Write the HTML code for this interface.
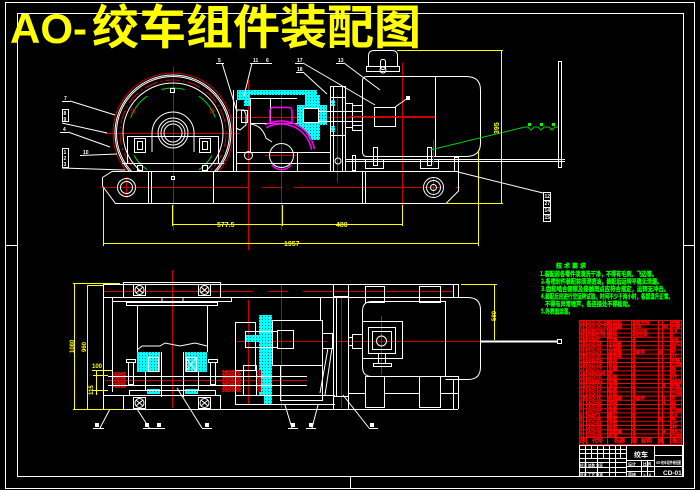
<!DOCTYPE html>
<html><head><meta charset="utf-8">
<style>html,body{margin:0;padding:0;background:#000;overflow:hidden}svg{display:block}</style>
</head>
<body>
<svg xmlns="http://www.w3.org/2000/svg" width="700" height="490" viewBox="0 0 700 490" font-family="Liberation Sans, 'Noto Sans CJK SC', sans-serif">
<defs>
<pattern id="cy" width="3" height="3" patternUnits="userSpaceOnUse"><rect width="3" height="3" fill="#00ffff"/><rect x="1" y="1" width="1" height="1" fill="#007070"/></pattern>
<pattern id="rh" width="3" height="3" patternUnits="userSpaceOnUse"><rect width="3" height="3" fill="#d00000"/><rect x="0" y="0" width="1" height="1" fill="#300000"/><rect x="2" y="1" width="1" height="1" fill="#300000"/></pattern>
<clipPath id="dc"><rect x="0" y="0" width="700" height="171"/></clipPath>
</defs>
<rect width="700" height="490" fill="#000"/>

<!-- borders -->
<g stroke="#fff" fill="none" stroke-width="1">
<rect x="5.5" y="2.5" width="689" height="486"/>
<rect x="17.5" y="13.5" width="666" height="463"/>
<line x1="5" y1="245.5" x2="17" y2="245.5"/>
<line x1="683" y1="245.5" x2="695" y2="245.5"/>
<line x1="350.5" y1="477" x2="350.5" y2="489"/>
</g>

<!-- title -->
<text x="10" y="43" font-size="42" font-weight="bold" fill="#ffff00">AO-</text>
<text x="92" y="44" font-size="47" font-weight="bold" fill="#ffff00" font-family="'Noto Sans CJK SC', sans-serif">绞车组件装配图</text>

<!-- ================= UPPER VIEW ================= -->
<g stroke="#d00000" fill="none" stroke-width="1">
<line x1="105" y1="133.5" x2="240" y2="133.5"/>
<line x1="173.5" y1="67" x2="173.5" y2="230"/>
<line x1="248.5" y1="80" x2="248.5" y2="250"/>
<line x1="281.5" y1="90" x2="281.5" y2="230"/>
<line x1="337.5" y1="95" x2="337.5" y2="182"/>
<line x1="402.5" y1="63" x2="402.5" y2="205"/>
<line x1="230" y1="117.5" x2="436" y2="117.5"/>
<line x1="265" y1="155.5" x2="297" y2="155.5"/>
<line x1="100" y1="187.5" x2="460" y2="187.5" stroke-dasharray="150 12 20 12"/>
<line x1="126.5" y1="177" x2="126.5" y2="198"/>
<line x1="433.5" y1="177" x2="433.5" y2="198"/>
</g>

<!-- drum -->
<g fill="none" stroke-width="1">
<g clip-path="url(#dc)">
<circle cx="173" cy="133" r="60" stroke="#d00000"/>
<circle cx="173" cy="133" r="58" stroke="#fff"/>
<circle cx="173" cy="133" r="56.5" stroke="#fff"/>
<circle cx="173" cy="133" r="53" stroke="#d00000" stroke-dasharray="14 3 2 3"/>
<circle cx="173" cy="133" r="50" stroke="#fff"/>
</g>
<g stroke="#00e000">
<path d="M161.4,89.5 A45,45 0 0 1 184.6,89.5"/>
<path d="M130.7,117.6 A45,45 0 0 1 147.2,96.1"/>
<path d="M198.8,96.1 A45,45 0 0 1 215.3,117.6"/>
<path d="M134,155.5 A45,45 0 0 0 147.2,169.9"/>
<path d="M198.8,169.9 A45,45 0 0 0 212,155.5"/>
</g>
<g stroke="#fff">
<path d="M152,152 L152,133 A21,21 0 0 1 194,133 L194,152"/>
<circle cx="173" cy="133" r="15"/>
<circle cx="173" cy="133" r="12"/>
<circle cx="173" cy="133" r="9"/>
<line x1="127" y1="136.5" x2="219" y2="136.5"/>
<line x1="127.5" y1="136" x2="127.5" y2="163"/>
<line x1="218.5" y1="136" x2="218.5" y2="163"/>
<line x1="122" y1="163.5" x2="224" y2="163.5"/>
<rect x="134.5" y="138.5" width="11" height="14"/>
<rect x="137.5" y="141.5" width="5" height="8"/>
<rect x="199.5" y="138.5" width="11" height="14"/>
<rect x="202.5" y="141.5" width="5" height="8"/>
<rect x="170.5" y="88.5" width="4" height="4"/>
<rect x="137.5" y="165.5" width="5" height="5"/>
<rect x="202.5" y="165.5" width="5" height="5"/>
<circle cx="133" cy="111" r="2" stroke="#d00000"/>
<circle cx="212" cy="111" r="2" stroke="#d00000"/>
</g>
</g>

<!-- base -->
<g fill="none" stroke="#fff" stroke-width="1">
<polygon points="102.5,177.5 112,171.5 458.5,171.5 458.5,191 446,203.5 115.5,203.5 102.5,186"/>
<line x1="148.5" y1="172" x2="148.5" y2="203"/>
<line x1="151.5" y1="172" x2="151.5" y2="203"/>
<line x1="213.5" y1="172" x2="213.5" y2="203"/>
<line x1="362.5" y1="172" x2="362.5" y2="203"/>
<line x1="365.5" y1="172" x2="365.5" y2="203"/>
<circle cx="126.5" cy="187.5" r="9"/>
<circle cx="126.5" cy="187.5" r="6"/>
<circle cx="433.5" cy="187.5" r="10"/>
<circle cx="433.5" cy="187.5" r="7"/>
<circle cx="433.5" cy="187.5" r="3"/>
<rect x="171.5" y="176.5" width="3" height="3"/>
</g>

<!-- gearbox (upper) -->
<polygon points="237,90 317,90 317,95 250,95 250,106 244,106 244,100 237,100" fill="url(#cy)"/>
<polygon points="305,95 320,95 320,105 327,105 327,125 320,125 320,140 310,140 305,130 297,125 297,105 305,105" fill="url(#cy)"/>
<rect x="331" y="100" width="4" height="6" fill="url(#cy)"/>
<rect x="331" y="126" width="4" height="6" fill="url(#cy)"/>
<g fill="none" stroke="#fff" stroke-width="1">
<line x1="233.5" y1="90" x2="233.5" y2="171"/>
<line x1="236.5" y1="100" x2="236.5" y2="171"/>
<path d="M236,110 L244,110 L246,115 L246,125 L240,130 L236,128"/>
<rect x="241.5" y="110.5" width="6" height="12"/>
<rect x="250.5" y="98.5" width="20" height="25"/>
<line x1="270" y1="98.5" x2="297" y2="98.5"/>
<line x1="270" y1="123.5" x2="297" y2="123.5"/>
<line x1="250.5" y1="123" x2="250.5" y2="152"/>
<path d="M250,124 Q262,125 266,138 L272,142"/>
<line x1="236" y1="152.5" x2="330" y2="152.5"/>
<line x1="236" y1="163.5" x2="330" y2="163.5"/>
<line x1="297.5" y1="152" x2="297.5" y2="171"/>
<circle cx="248.5" cy="155.5" r="4"/>
<circle cx="281.5" cy="155.5" r="12"/>
<rect x="303.5" y="108.5" width="15" height="14" fill="#000"/>
<line x1="318" y1="111.5" x2="362" y2="111.5"/>
<line x1="318" y1="121.5" x2="362" y2="121.5"/>
<rect x="330.5" y="86.5" width="15" height="85"/>
<line x1="333.5" y1="86" x2="333.5" y2="171"/>
<line x1="342.5" y1="86" x2="342.5" y2="171"/>
<line x1="330" y1="97.5" x2="345" y2="97.5"/>
<line x1="330" y1="135.5" x2="345" y2="135.5"/>
<rect x="345.5" y="103.5" width="7" height="24"/>
<rect x="352.5" y="105.5" width="10" height="20"/>
<line x1="345" y1="159.5" x2="565" y2="159.5"/>
<line x1="345" y1="161.5" x2="565" y2="161.5"/>
<circle cx="338" cy="161" r="3"/>
</g>
<g fill="none" stroke="#ff00ff" stroke-width="1.5">
<rect x="270" y="107.5" width="22" height="16" rx="3"/>
<path d="M265,125 A34,34 0 0 1 314.5,149.1"/>
<path d="M266.4,127.6 A31,31 0 0 1 311.5,149.6"/>
<path d="M272,165 A12,12 0 0 0 291,165"/>
</g>

<!-- motor (upper) -->
<g fill="none" stroke="#fff" stroke-width="1">
<path d="M368.5,67 L368.5,55 Q369,50.5 374,50.5 L392,50.5 Q397,50.5 397.5,55 L397.5,67"/>
<rect x="366.5" y="66.5" width="33" height="5"/>
<rect x="380.5" y="59.5" width="5" height="10" rx="2"/>
<circle cx="383" cy="70" r="3"/>
<path d="M367,76.5 L466,76.5 Q480.5,76.5 480.5,90 L480.5,143 Q480.5,156.5 466,156.5 L367,156.5 Q362.5,156.5 362.5,152 L362.5,81 Q362.5,76.5 367,76.5 Z"/>
<line x1="435.5" y1="76" x2="435.5" y2="156"/>
<rect x="352.5" y="105.5" width="10" height="25"/>
<rect x="374.5" y="107.5" width="21" height="19"/>
<line x1="395" y1="107" x2="408" y2="98"/>
<rect x="406.5" y="96.5" width="3" height="3" fill="#fff"/>
<rect x="373.5" y="147.5" width="4" height="18"/>
<rect x="427.5" y="147.5" width="4" height="18"/>
<rect x="365.5" y="159.5" width="18" height="9"/>
<rect x="420.5" y="159.5" width="18" height="9"/>
<rect x="352.5" y="155.5" width="3" height="15"/>
<rect x="454.5" y="157.5" width="4" height="14"/>
<rect x="558.5" y="61.5" width="3" height="106"/>
</g>
<g stroke="#d00000"><line x1="350" y1="116.5" x2="435" y2="116.5"/><line x1="433.5" y1="140" x2="433.5" y2="165"/></g>

<!-- green rope line -->
<g stroke="#00d000" fill="none" stroke-width="1">
<polyline points="430,150 525,127 528,127 531,130 534,127 538,127 541,130 544,127 549,127 552,130 555,127 558,127"/>
</g>
<rect x="528" y="123" width="3" height="3" fill="#00ff00"/>
<rect x="540" y="123" width="3" height="3" fill="#00ff00"/>
<rect x="552" y="123" width="3" height="3" fill="#00ff00"/>

<!-- yellow dims (upper) -->
<g stroke="#ffff00" fill="none" stroke-width="1">
<line x1="397" y1="50.5" x2="503" y2="50.5"/>
<line x1="501.5" y1="50" x2="501.5" y2="204"/>
<line x1="445" y1="203.5" x2="503" y2="203.5"/>
<line x1="172" y1="224.5" x2="402" y2="224.5"/>
<line x1="103" y1="243.5" x2="479" y2="243.5"/>
<line x1="103.5" y1="188" x2="103.5" y2="246"/>
<line x1="172.5" y1="205" x2="172.5" y2="226"/>
<line x1="282.5" y1="205" x2="282.5" y2="226"/>
<line x1="402.5" y1="205" x2="402.5" y2="226"/>
<line x1="478.5" y1="150" x2="478.5" y2="246"/>
</g>
<g fill="#ffff00" font-size="7" font-weight="bold">
<text x="217" y="227">577.5</text>
<text x="336" y="227">480</text>
<text x="284" y="246">1957</text>
<text x="0" y="0" transform="translate(499,134) rotate(-90)">395</text>
</g>

<!-- leaders upper -->
<g stroke="#fff" fill="none" stroke-width="1">
<line x1="62" y1="101.5" x2="70" y2="101.5"/><line x1="70" y1="101" x2="115" y2="115"/>
<rect x="62.5" y="109.5" width="6" height="12"/><line x1="62" y1="123" x2="107" y2="133"/>
<line x1="60" y1="132.5" x2="68" y2="132.5"/><line x1="68" y1="132" x2="110" y2="147"/>
<line x1="80" y1="155.5" x2="117" y2="154"/>
<rect x="62.5" y="148.5" width="6" height="19"/><line x1="62" y1="168" x2="125" y2="170"/>
<line x1="216" y1="63.5" x2="224" y2="63.5"/><line x1="222" y1="63" x2="237" y2="112"/>
<line x1="250" y1="63.5" x2="272" y2="63.5"/><line x1="252" y1="63" x2="244" y2="96"/>
<line x1="295" y1="63.5" x2="303" y2="63.5"/><line x1="303" y1="63" x2="375" y2="105"/>
<line x1="296" y1="72.5" x2="303" y2="72.5"/><line x1="303" y1="72" x2="327" y2="94"/>
<line x1="336" y1="63.5" x2="344" y2="63.5"/><line x1="344" y1="63" x2="380" y2="90"/>
<line x1="458" y1="172" x2="543" y2="193"/>
<rect x="543.5" y="192.5" width="7" height="29"/>
<line x1="543" y1="200.5" x2="550" y2="200.5"/><line x1="543" y1="207.5" x2="550" y2="207.5"/><line x1="543" y1="214.5" x2="550" y2="214.5"/>
</g>
<g fill="#fff" font-size="5" font-weight="bold">
<text x="64" y="100">7</text><text x="63.5" y="115">8</text><text x="63.5" y="121">9</text>
<text x="63" y="131">4</text><text x="83" y="154">10</text>
<text x="63.5" y="154">1</text><text x="63.5" y="160">2</text><text x="63.5" y="166">3</text>
<text x="218" y="62">5</text><text x="253" y="62">11</text><text x="266" y="62">6</text>
<text x="297" y="62">17</text><text x="297" y="71">18</text><text x="338" y="62">13</text>
<text x="544.5" y="198">12</text><text x="544.5" y="205">27</text><text x="544.5" y="212">14</text><text x="544.5" y="219">15</text>
</g>

<!-- ================= LOWER VIEW ================= -->
<g stroke="#d00000" fill="none" stroke-width="1">
<line x1="103" y1="291.5" x2="458" y2="291.5" stroke-dasharray="150 15 20 15"/>
<line x1="172.5" y1="270" x2="172.5" y2="408"/>
<line x1="248.5" y1="300" x2="248.5" y2="405"/>
<line x1="281.5" y1="285" x2="281.5" y2="408"/>
<line x1="341.5" y1="298" x2="341.5" y2="408"/>
<line x1="105" y1="380.5" x2="307" y2="380.5"/>
<line x1="237" y1="341.5" x2="480" y2="341.5" stroke-dasharray="90 8 150"/>
<line x1="381.5" y1="316" x2="381.5" y2="375"/>
</g>

<rect x="137" y="352" width="23" height="20" fill="url(#cy)"/>
<rect x="185" y="352" width="22" height="20" fill="url(#cy)"/>
<rect x="147" y="389" width="13" height="5" fill="url(#cy)"/>
<rect x="185" y="389" width="13" height="5" fill="url(#cy)"/>
<polygon points="259,315 272,315 272,405 264,405 264,395 259,395" fill="url(#cy)"/>
<rect x="245" y="335" width="27" height="7" fill="url(#cy)"/>
<rect x="112" y="372" width="14" height="16" fill="url(#rh)"/>
<rect x="222" y="370" width="15" height="22" fill="url(#rh)"/>
<rect x="236" y="370" width="5" height="22" fill="url(#rh)"/>
<rect x="256" y="370" width="5" height="22" fill="url(#rh)"/>

<g fill="none" stroke="#fff" stroke-width="1">
<line x1="103" y1="284.5" x2="458" y2="284.5"/>
<line x1="103" y1="297.5" x2="123" y2="297.5"/>
<line x1="220" y1="297.5" x2="458" y2="297.5"/>
<line x1="103.5" y1="284" x2="103.5" y2="409"/>
<line x1="103" y1="409.5" x2="458" y2="409.5"/>
<line x1="103" y1="395.5" x2="123" y2="395.5"/>
<line x1="112.5" y1="302" x2="112.5" y2="392"/>
<line x1="320.5" y1="297" x2="320.5" y2="320"/>
<rect x="123.5" y="282.5" width="97" height="15"/>
<rect x="123.5" y="395.5" width="97" height="14"/>
<rect x="133.5" y="284.5" width="12" height="11"/><circle cx="139.5" cy="290" r="4.5"/><path d="M136,287 L143,293 M143,287 L136,293"/>
<rect x="198.5" y="284.5" width="12" height="11"/><circle cx="204.5" cy="290" r="4.5"/><path d="M201,287 L208,293 M208,287 L201,293"/>
<rect x="133.5" y="397.5" width="12" height="11"/><circle cx="139.5" cy="403" r="4.5"/><path d="M136,400 L143,406 M143,400 L136,406"/>
<rect x="198.5" y="397.5" width="12" height="11"/><circle cx="204.5" cy="403" r="4.5"/><path d="M201,400 L208,406 M208,400 L201,406"/>
<rect x="112.5" y="297.5" width="119" height="4"/>
<line x1="162" y1="297" x2="162" y2="302"/><line x1="183" y1="297" x2="183" y2="302"/>
<rect x="126.5" y="302.5" width="91" height="3"/>
<line x1="137.5" y1="305" x2="137.5" y2="352"/>
<line x1="207.5" y1="305" x2="207.5" y2="352"/>
<path d="M137,350 L142,346 L160,346 L165,343 L180,346 L195,343 L207,346"/>
<line x1="161.5" y1="352" x2="161.5" y2="397"/>
<line x1="183.5" y1="352" x2="183.5" y2="397"/>
<line x1="145.5" y1="372" x2="145.5" y2="390"/>
<line x1="198.5" y1="372" x2="198.5" y2="390"/>
<rect x="148.5" y="357.5" width="10" height="14"/>
<rect x="186.5" y="357.5" width="10" height="14"/>
<path d="M186,358 L196,371 M196,358 L186,371"/>
<line x1="108" y1="376.5" x2="307" y2="376.5"/>
<line x1="108" y1="385.5" x2="307" y2="385.5"/>
<rect x="128.5" y="362.5" width="5" height="22"/>
<rect x="210.5" y="362.5" width="5" height="22"/>
<rect x="126.5" y="359.5" width="9" height="3"/>
<rect x="208.5" y="359.5" width="9" height="3"/>
<rect x="129.5" y="390.5" width="86" height="5"/>
<rect x="235.5" y="322.5" width="20" height="48"/>
<rect x="245.5" y="331.5" width="32" height="16"/>
<rect x="272.5" y="320.5" width="50" height="45"/>
<rect x="277.5" y="330.5" width="16" height="18"/>
<rect x="280.5" y="365.5" width="42" height="35"/>
<rect x="243.5" y="365.5" width="13" height="30"/>
<line x1="235" y1="395.5" x2="335" y2="395.5"/>
<line x1="235" y1="404.5" x2="335" y2="404.5"/>
<line x1="235.5" y1="370" x2="235.5" y2="405"/>
<rect x="322.5" y="333.5" width="10" height="15"/>
<line x1="328" y1="348" x2="320" y2="393"/>
<line x1="332" y1="348" x2="325" y2="395"/>
<line x1="333.5" y1="284" x2="333.5" y2="409"/>
<line x1="348.5" y1="284" x2="348.5" y2="409"/>
<line x1="336.5" y1="297" x2="336.5" y2="396"/>
<line x1="333" y1="296.5" x2="348" y2="296.5"/>
<line x1="333" y1="396.5" x2="348" y2="396.5"/>
<rect x="365.5" y="286.5" width="19" height="16"/>
<rect x="419.5" y="286.5" width="21" height="16"/>
<line x1="453.5" y1="284" x2="453.5" y2="297"/>
<line x1="458.5" y1="284" x2="458.5" y2="297"/>
<path d="M372,301.5 L445.5,301.5 L445.5,376.5 L372,376.5 Q362.5,376.5 362.5,367 L362.5,311 Q362.5,301.5 372,301.5 Z"/>
<path d="M445.5,297.5 L468,297.5 Q480.5,297.5 480.5,310 L480.5,367 Q480.5,379.5 468,379.5 L445.5,379.5"/>
<rect x="362.5" y="321.5" width="40" height="37"/>
<rect x="368.5" y="327.5" width="27" height="26"/>
<rect x="372.5" y="331.5" width="19" height="18"/>
<circle cx="381.5" cy="341" r="5"/>
<line x1="378.5" y1="353" x2="378.5" y2="363"/>
<line x1="385.5" y1="353" x2="385.5" y2="363"/>
<rect x="373.5" y="363.5" width="18" height="3"/>
<rect x="352.5" y="334.5" width="10" height="14"/>
<rect x="348.5" y="337.5" width="4" height="8"/>
<rect x="365.5" y="376.5" width="19" height="31"/>
<rect x="419.5" y="376.5" width="21" height="31"/>
<line x1="384" y1="393.5" x2="419" y2="393.5"/>
<line x1="440" y1="393.5" x2="458" y2="393.5"/>
<line x1="348" y1="393.5" x2="365" y2="393.5"/>
<line x1="458.5" y1="376" x2="458.5" y2="409"/>
<line x1="453.5" y1="379" x2="453.5" y2="409"/>
<line x1="445" y1="376.5" x2="458" y2="376.5"/>
</g>
<line x1="480" y1="341.5" x2="558" y2="341.5" stroke="#fff" stroke-width="2"/>
<rect x="557.5" y="339.5" width="4" height="4" fill="none" stroke="#fff"/>

<g stroke="#ffff00" fill="none" stroke-width="1">
<line x1="74.5" y1="283" x2="74.5" y2="409"/>
<line x1="87.5" y1="285" x2="87.5" y2="409"/>
<line x1="73" y1="283.5" x2="120" y2="283.5"/>
<line x1="87" y1="285.5" x2="103" y2="285.5"/>
<line x1="73" y1="409.5" x2="122" y2="409.5"/>
<line x1="92" y1="370.5" x2="112" y2="370.5"/>
<line x1="96.5" y1="370" x2="96.5" y2="395"/>
<line x1="93" y1="375.5" x2="108" y2="375.5"/>
<line x1="93" y1="390.5" x2="108" y2="390.5"/>
<line x1="494.5" y1="284" x2="494.5" y2="340"/>
<line x1="461" y1="284.5" x2="497" y2="284.5"/>
</g>
<g fill="#ffff00" font-size="6" font-weight="bold">
<text transform="translate(74,353) rotate(-90)">1080</text>
<text transform="translate(86,352) rotate(-90)">960</text>
<text x="92" y="368">100</text>
<text transform="translate(93,395) rotate(-90)">115</text>
<text transform="translate(496,321) rotate(-90)">580</text>
</g>

<g stroke="#fff" fill="none" stroke-width="1">
<line x1="110" y1="409" x2="100" y2="428"/><line x1="93" y1="428.5" x2="104" y2="428.5"/>
<line x1="137" y1="409" x2="150" y2="429"/><line x1="143" y1="428.5" x2="165" y2="428.5"/>
<line x1="177" y1="388" x2="202" y2="428"/><line x1="202" y1="428.5" x2="212" y2="428.5"/>
<line x1="285" y1="405" x2="292" y2="428"/><line x1="288" y1="428.5" x2="298" y2="428.5"/>
<line x1="318" y1="405" x2="312" y2="428"/><line x1="306" y1="428.5" x2="316" y2="428.5"/>
<line x1="343" y1="395" x2="369" y2="428"/><line x1="369" y1="428.5" x2="378" y2="428.5"/>
</g>
<g fill="#fff">
<rect x="95" y="423" width="4" height="4"/><rect x="145" y="423" width="4" height="4"/><rect x="157" y="423" width="4" height="4"/>
<rect x="205" y="423" width="4" height="4"/><rect x="291" y="423" width="4" height="4"/><rect x="309" y="423" width="4" height="4"/>
<rect x="370" y="423" width="4" height="4"/>
</g>

<!-- ================= TECH REQUIREMENTS ================= -->
<g fill="#00ff00" stroke="#00ff00" stroke-width="0.3" font-weight="bold" font-family="'Noto Sans CJK SC', sans-serif">
<text x="556" y="268" font-size="6" letter-spacing="2">技术要求</text>
<text x="540" y="276" font-size="6.5" textLength="117" lengthAdjust="spacingAndGlyphs">1.装配前各零件须清洗干净，不得有毛刺、飞边等。</text>
<text x="541" y="283.5" font-size="6.5" textLength="121" lengthAdjust="spacingAndGlyphs">2.各密封件装配前须浸透油，装配后运转平稳无泄漏。</text>
<text x="541" y="291" font-size="6.5" textLength="128" lengthAdjust="spacingAndGlyphs">3.齿轮啮合侧隙及接触斑点应符合规定，运转无冲击。</text>
<text x="541" y="298.5" font-size="6.5" textLength="132" lengthAdjust="spacingAndGlyphs">4.装配后应进行空运转试验，时间不少于两小时，各部温升正常。</text>
<text x="545" y="306" font-size="6.5" textLength="88" lengthAdjust="spacingAndGlyphs">不得有异常噪声，各连接处不得松动。</text>
<text x="541" y="313.5" font-size="6.5" textLength="32" lengthAdjust="spacingAndGlyphs">5.外表面涂漆。</text>
</g>

<!-- ================= PARTS TABLE ================= -->
<g stroke="#ff0000" fill="none" stroke-width="1">
<rect x="579.5" y="320.5" width="102" height="124"/>
<line x1="583.5" y1="320" x2="583.5" y2="444"/>
<line x1="586.5" y1="320" x2="586.5" y2="444"/>
<line x1="607.5" y1="320" x2="607.5" y2="444"/>
<line x1="631.5" y1="320" x2="631.5" y2="444"/>
<line x1="634.5" y1="320" x2="634.5" y2="444"/>
<line x1="658.5" y1="320" x2="658.5" y2="444"/>
<line x1="662.5" y1="320" x2="662.5" y2="444"/>
<line x1="670.5" y1="320" x2="670.5" y2="444"/>
<path d="M579,324.7H682M579,328.9H682M579,333.1H682M579,337.3H682M579,341.5H682M579,345.7H682M579,349.9H682M579,354.1H682M579,358.3H682M579,362.5H682M579,366.7H682M579,370.9H682M579,375.1H682M579,379.3H682M579,383.5H682M579,387.7H682M579,391.9H682M579,396.1H682M579,400.3H682M579,404.5H682M579,408.7H682M579,412.9H682M579,417.1H682M579,421.3H682M579,425.5H682M579,429.7H682M579,433.9H682M579,437.5H682"/>
</g>
<g fill="#ff0000" stroke="#ff0000" stroke-width="0.35" font-size="4.6" font-weight="bold" font-family="Liberation Sans, 'Noto Sans CJK SC', sans-serif">
<text y="324"><tspan x="580">28</tspan><tspan x="588">AO-JC-28</tspan><tspan x="608">电动机</tspan><tspan x="632">1</tspan><tspan x="636">组合件</tspan><tspan x="671">外购</tspan></text>
<text y="328.2"><tspan x="580">27</tspan><tspan x="588">AO-JC-27</tspan><tspan x="608">联轴器</tspan><tspan x="632">1</tspan><tspan x="636">45</tspan><tspan x="663">12</tspan><tspan x="671">外购</tspan></text>
<text y="332.4"><tspan x="580">26</tspan><tspan x="588">GB5782</tspan><tspan x="608">螺栓</tspan><tspan x="632">4</tspan><tspan x="636">Q235</tspan><tspan x="671">8.8</tspan></text>
<text y="336.6"><tspan x="580">25</tspan><tspan x="588">GB6170</tspan><tspan x="608">螺母</tspan><tspan x="632">4</tspan><tspan x="636">Q235</tspan><tspan x="671">8</tspan></text>
<text y="340.8"><tspan x="580">24</tspan><tspan x="588">GB97</tspan><tspan x="608">垫圈</tspan><tspan x="632">4</tspan><tspan x="671">140</tspan></text>
<text y="345"><tspan x="580">23</tspan><tspan x="588">AO-23</tspan><tspan x="608">小齿轮</tspan><tspan x="632">1</tspan><tspan x="671">40Cr</tspan></text>
<text y="349.2"><tspan x="580">22</tspan><tspan x="588">AO-22</tspan><tspan x="608">大齿轮</tspan><tspan x="632">1</tspan><tspan x="671">45</tspan></text>
<text y="353.4"><tspan x="580">21</tspan><tspan x="588">AO-21</tspan><tspan x="608">减速器</tspan><tspan x="632">1</tspan><tspan x="636">组件</tspan><tspan x="659">1</tspan><tspan x="671">外</tspan></text>
<text y="357.6"><tspan x="580">20</tspan><tspan x="588">AO-20</tspan><tspan x="608">轴承座</tspan><tspan x="632">2</tspan><tspan x="671">HT</tspan></text>
<text y="361.8"><tspan x="580">19</tspan><tspan x="588">GB276</tspan><tspan x="608">轴承</tspan><tspan x="632">2</tspan><tspan x="671">外购</tspan></text>
<text y="366"><tspan x="580">18</tspan><tspan x="588">AO-18</tspan><tspan x="608">卷筒</tspan><tspan x="632">1</tspan><tspan x="671">Q235</tspan></text>
<text y="370.2"><tspan x="580">17</tspan><tspan x="588">AO-17</tspan><tspan x="608">主轴</tspan><tspan x="632">1</tspan><tspan x="671">45</tspan></text>
<text y="374.4"><tspan x="580">16</tspan><tspan x="588">GB1096</tspan><tspan x="608">键</tspan><tspan x="632">2</tspan><tspan x="671">45</tspan></text>
<text y="378.6"><tspan x="580">15</tspan><tspan x="588">AO-15</tspan><tspan x="608">端盖</tspan><tspan x="632">2</tspan><tspan x="671">HT</tspan></text>
<text y="382.8"><tspan x="580">14</tspan><tspan x="588">GB894</tspan><tspan x="608">挡圈</tspan><tspan x="632">2</tspan><tspan x="671">65Mn</tspan></text>
<text y="387"><tspan x="580">13</tspan><tspan x="588">AO-13</tspan><tspan x="608">油封</tspan><tspan x="632">2</tspan><tspan x="663">1</tspan><tspan x="671">外购</tspan></text>
<text y="391.2"><tspan x="580">12</tspan><tspan x="588">AO-12</tspan><tspan x="608">底座</tspan><tspan x="632">1</tspan><tspan x="671">Q235</tspan></text>
<text y="395.4"><tspan x="580">11</tspan><tspan x="588">AO-11</tspan><tspan x="608">支架</tspan><tspan x="632">1</tspan><tspan x="671">Q235</tspan></text>
<text y="399.6"><tspan x="580">10</tspan><tspan x="588">AO-10</tspan><tspan x="608">制动器</tspan><tspan x="632">1</tspan><tspan x="636">组件</tspan><tspan x="663">2</tspan><tspan x="671">外</tspan></text>
<text y="403.8"><tspan x="580">9</tspan><tspan x="588">AO-09</tspan><tspan x="608">销轴</tspan><tspan x="632">2</tspan><tspan x="663">1</tspan><tspan x="671">45</tspan></text>
<text y="408"><tspan x="580">8</tspan><tspan x="588">AO-08</tspan><tspan x="608">套筒</tspan><tspan x="632">2</tspan><tspan x="671">45</tspan></text>
<text y="412.2"><tspan x="580">7</tspan><tspan x="588">AO-07</tspan><tspan x="608">压板</tspan><tspan x="632">4</tspan><tspan x="671">Q235</tspan></text>
<text y="416.4"><tspan x="580">6</tspan><tspan x="588">GB70</tspan><tspan x="608">螺钉</tspan><tspan x="632">8</tspan><tspan x="671">8.8</tspan></text>
<text y="420.6"><tspan x="580">5</tspan><tspan x="588">AO-05</tspan><tspan x="608">隔套</tspan><tspan x="632">2</tspan><tspan x="659">1</tspan><tspan x="671">45</tspan></text>
<text y="424.8"><tspan x="580">4</tspan><tspan x="588">AO-04</tspan><tspan x="608">透盖</tspan><tspan x="632">1</tspan><tspan x="671">HT</tspan></text>
<text y="429"><tspan x="580">3</tspan><tspan x="588">AO-03</tspan><tspan x="608">闷盖</tspan><tspan x="632">1</tspan><tspan x="671">HT</tspan></text>
<text y="433.2"><tspan x="580">2</tspan><tspan x="588">AO-02</tspan><tspan x="608">齿轮轴</tspan><tspan x="632">1</tspan><tspan x="663">3</tspan><tspan x="671">40Cr</tspan></text>
<text y="437"><tspan x="580">1</tspan><tspan x="588">AO-01</tspan><tspan x="608">机架</tspan><tspan x="632">1</tspan><tspan x="671">Q235</tspan></text>
<text y="442.5" font-size="5.5"><tspan x="580">序</tspan><tspan x="592">代号</tspan><tspan x="614">名称</tspan><tspan x="632">数</tspan><tspan x="641">材料</tspan><tspan x="659">重</tspan><tspan x="672">备注</tspan></text>
</g>

<!-- ================= TITLE BLOCK ================= -->
<g stroke="#fff" fill="none" stroke-width="1">
<rect x="579.5" y="445.5" width="103" height="31"/>
<line x1="626.5" y1="445" x2="626.5" y2="477"/>
<line x1="654.5" y1="445" x2="654.5" y2="477"/>
<line x1="579" y1="449.5" x2="626" y2="449.5"/>
<line x1="579" y1="453.5" x2="626" y2="453.5"/>
<line x1="579" y1="458.5" x2="626" y2="458.5"/>
<line x1="579" y1="462.5" x2="626" y2="462.5"/>
<line x1="579" y1="467.5" x2="626" y2="467.5"/>
<line x1="579" y1="472.5" x2="626" y2="472.5"/>
<line x1="585.5" y1="445" x2="585.5" y2="477"/>
<line x1="591.5" y1="445" x2="591.5" y2="458"/>
<line x1="597.5" y1="445" x2="597.5" y2="477"/>
<line x1="603.5" y1="445" x2="603.5" y2="458"/>
<line x1="609.5" y1="445" x2="609.5" y2="477"/>
<line x1="615.5" y1="445" x2="615.5" y2="477"/>
<line x1="620.5" y1="445" x2="620.5" y2="458"/>
<line x1="626" y1="460.5" x2="654" y2="460.5"/>
<line x1="626" y1="466.5" x2="654" y2="466.5"/>
<line x1="626" y1="471.5" x2="654" y2="471.5"/>
<line x1="641.5" y1="460" x2="641.5" y2="477"/>
<line x1="647.5" y1="460" x2="647.5" y2="477"/>
<line x1="654" y1="455.5" x2="683" y2="455.5"/>
<line x1="654" y1="466.5" x2="683" y2="466.5"/>
</g>
<g fill="#fff" font-weight="bold" font-family="Liberation Sans, 'Noto Sans CJK SC', sans-serif">
<text x="634" y="457" font-size="7">绞车</text>
<text x="656" y="464" font-size="4.2" textLength="25" lengthAdjust="spacingAndGlyphs">AO-绞车组件装配图</text>
<text x="663" y="475" font-size="6.5">CD-01</text>
<text x="628" y="465.5" font-size="4">设计</text><text x="643" y="465.5" font-size="4">比例</text>
<text x="628" y="476" font-size="4">审核</text><text x="643" y="476" font-size="4">1:10</text>
<text x="580" y="466.5" font-size="3.5">标记 处数 分区</text>
<text x="580" y="476" font-size="3.5">设计 工艺 批准</text>
</g>
</svg>
</body></html>
